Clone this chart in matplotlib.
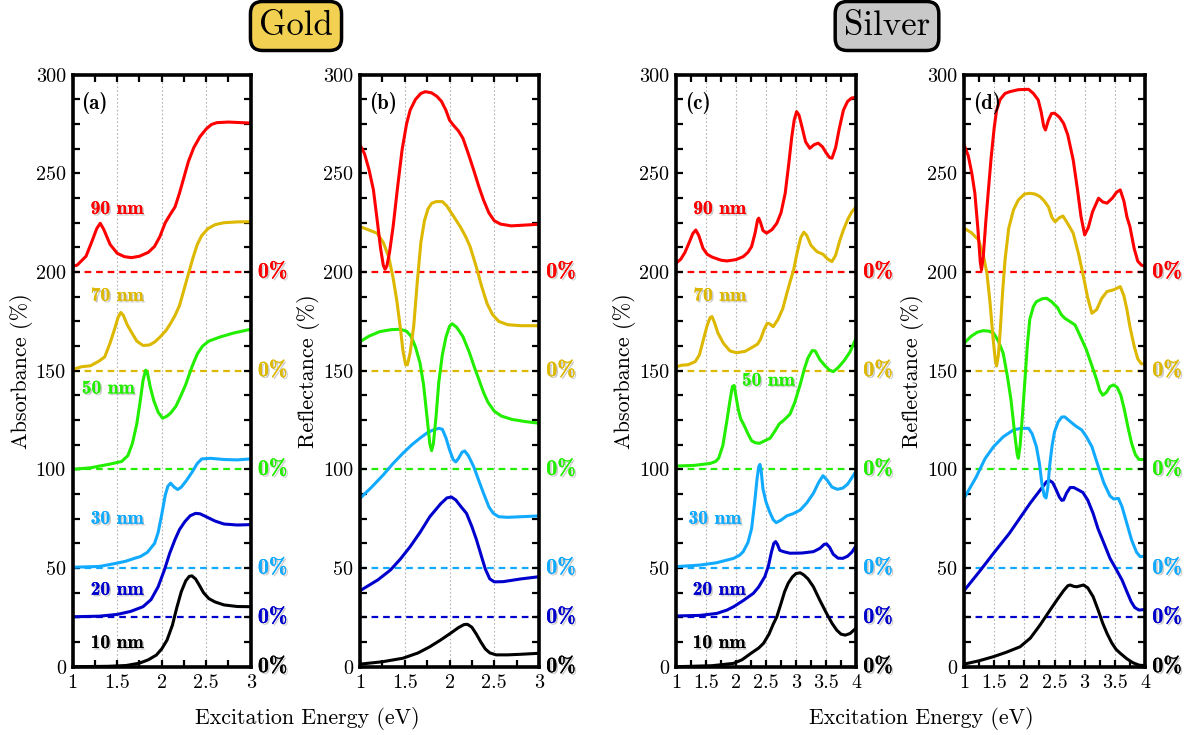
import matplotlib.pyplot as plt
import matplotlib.patheffects as pe
from matplotlib.ticker import MultipleLocator, FuncFormatter
import numpy as np

plt.rcParams['font.family'] = ['cmr10', 'DejaVu Serif']
plt.rcParams['axes.formatter.use_mathtext'] = True

# thickness series, stacking offsets and colours
thickness = ['10 nm', '20 nm', '30 nm', '50 nm', '70 nm', '90 nm']
offsets = [0, 25, 50, 100, 150, 200]
colors = ['black', '#0000cc', '#11aaff', '#22ee00', '#ddb800', '#ff0000']

# (a) gold absorbance: (energy eV, %)
a10 = [(1.0, 0), (1.4, 0.2), (1.6, 0.6), (1.75, 1.8), (1.85, 3.5), (1.94, 5.9), (2.0, 9), (2.06, 13.5),
       (2.12, 21), (2.17, 30), (2.22, 38), (2.27, 43.5), (2.31, 45.8), (2.34, 46), (2.38, 44.5), (2.42, 41.5),
       (2.47, 37.5), (2.53, 34.5), (2.6, 32.8), (2.7, 31.3), (2.85, 30.5), (3.0, 30.4)]
a20 = [(1.0, 0.3), (1.3, 0.6), (1.5, 1.5), (1.65, 3), (1.79, 5.4), (1.88, 9), (1.96, 15.5), (2.03, 24),
       (2.09, 32.5), (2.15, 39.5), (2.2, 44.5), (2.26, 48.5), (2.32, 51.5), (2.38, 52.7), (2.43, 52.5), (2.5, 51),
       (2.6, 48.8), (2.7, 47.3), (2.85, 46.8), (3.0, 47)]
a30 = [(1.0, 0.4), (1.3, 0.8), (1.49, 2.4), (1.6, 3.5), (1.7, 5), (1.76, 5.8), (1.84, 8), (1.92, 12.5),
       (1.96, 18), (2.0, 27), (2.04, 37), (2.07, 41.5), (2.10, 43), (2.14, 41), (2.18, 39.8), (2.22, 41),
       (2.28, 44.5), (2.34, 48.5), (2.4, 53), (2.45, 55.3), (2.55, 55.6), (2.7, 55), (2.85, 54.8), (3.0, 55.3)]
a50 = [(1.0, 0), (1.2, 0.8), (1.4, 2.5), (1.55, 4), (1.62, 7), (1.67, 13), (1.72, 23), (1.76, 35), (1.79, 45),
       (1.82, 50.3), (1.84, 49), (1.87, 42), (1.91, 35), (1.96, 29), (2.01, 25.9), (2.06, 27), (2.1, 28.5),
       (2.16, 32), (2.21, 36.8), (2.27, 43), (2.34, 52), (2.4, 58.5), (2.46, 62.5), (2.53, 65), (2.65, 67),
       (2.8, 69), (3.0, 71)]
a70 = [(1.0, 0.7), (1.1, 2), (1.2, 2.5), (1.3, 5), (1.36, 7), (1.42, 14), (1.47, 21), (1.51, 27), (1.54, 29.5),
       (1.57, 28), (1.61, 23.5), (1.66, 19.5), (1.72, 15), (1.79, 12.8), (1.86, 13), (1.92, 14.5), (1.98, 17),
       (2.05, 20.5), (2.1, 24), (2.15, 28), (2.2, 33), (2.25, 41), (2.3, 49), (2.35, 57), (2.4, 64), (2.45, 68.5),
       (2.52, 72), (2.6, 74), (2.7, 75), (2.85, 75.4), (3.0, 75.5)]
a90 = [(1.0, 3), (1.05, 3.5), (1.15, 8), (1.22, 16), (1.27, 22), (1.31, 24.7), (1.35, 21.5), (1.42, 14),
       (1.5, 9.5), (1.58, 7.8), (1.66, 7.3), (1.75, 8), (1.85, 10), (1.92, 13), (1.98, 18), (2.04, 25),
       (2.1, 29.5), (2.15, 33), (2.2, 40), (2.25, 48), (2.3, 56), (2.36, 63), (2.43, 68.6), (2.5, 72.5),
       (2.56, 74.8), (2.62, 75.7), (2.75, 76), (3.0, 75.5)]

# (b) gold reflectance
b10 = [(1.0, 1.3), (1.25, 2.5), (1.48, 4.3), (1.65, 7), (1.78, 10.1), (1.9, 13.5), (2.01, 16.9), (2.1, 19.8),
       (2.16, 21.3), (2.2, 21.5), (2.25, 20), (2.3, 16.5), (2.35, 12.5), (2.4, 9), (2.45, 7), (2.52, 6),
       (2.65, 6), (2.8, 6.3), (3.0, 6.8)]
b20 = [(1.0, 13.5), (1.2, 19), (1.34, 24), (1.45, 29.5), (1.56, 35.8), (1.67, 43), (1.78, 51), (1.9, 57.5),
       (1.97, 60.5), (2.02, 61), (2.07, 59.5), (2.13, 56), (2.19, 52.7), (2.25, 46), (2.3, 39.5), (2.35, 32),
       (2.4, 24.5), (2.45, 19.5), (2.5, 18), (2.6, 18.1), (2.8, 19.5), (3.0, 20.6)]
b30 = [(1.0, 35.3), (1.13, 41), (1.26, 47.2), (1.37, 53), (1.48, 58.2), (1.58, 62.5), (1.67, 65.8),
       (1.75, 68.5), (1.82, 70), (1.88, 70.8), (1.92, 70.3), (1.96, 66), (2.0, 60), (2.04, 55), (2.07, 53.8),
       (2.1, 55.5), (2.14, 58.7), (2.17, 59.3), (2.21, 57), (2.27, 51.4), (2.33, 44), (2.38, 37.9), (2.44, 31),
       (2.49, 27.7), (2.55, 26), (2.65, 25.7), (3.0, 26.4)]
b50 = [(1.0, 64.7), (1.1, 67.5), (1.22, 69.8), (1.35, 70.8), (1.45, 71), (1.52, 70), (1.57, 67.5), (1.62, 62),
       (1.67, 54), (1.71, 43), (1.75, 26), (1.78, 13), (1.8, 9.5), (1.82, 13), (1.85, 27), (1.88, 44), (1.92, 58),
       (1.96, 67), (2.0, 72.5), (2.03, 73.8), (2.08, 72), (2.15, 67.3), (2.22, 59.5), (2.28, 51.5), (2.33, 45.3),
       (2.38, 39), (2.43, 34), (2.5, 29.5), (2.58, 27), (2.7, 25.3), (2.85, 24.2), (3.0, 23.4)]
b70 = [(1.0, 73), (1.1, 71.3), (1.19, 69.7), (1.26, 65), (1.32, 57.8), (1.37, 47), (1.41, 35.9), (1.45, 22),
       (1.48, 10), (1.51, 3), (1.53, 3), (1.56, 9), (1.6, 22.5), (1.64, 45), (1.68, 65), (1.72, 76), (1.76, 82),
       (1.8, 84.8), (1.85, 85.7), (1.92, 85.7), (1.97, 83.5), (2.02, 80), (2.07, 76.5), (2.12, 73), (2.18, 68),
       (2.23, 62.9), (2.3, 52.5), (2.36, 42.6), (2.42, 34), (2.48, 28.5), (2.55, 25), (2.65, 23.3), (2.8, 22.8),
       (3.0, 22.8)]
b90 = [(1.0, 64.4), (1.05, 60), (1.1, 52), (1.15, 41.6), (1.19, 27), (1.23, 12), (1.26, 3.5), (1.28, 1.4),
       (1.3, 3), (1.33, 10), (1.37, 23), (1.42, 43), (1.47, 61.9), (1.52, 75), (1.56, 82), (1.62, 87.5),
       (1.68, 90.5), (1.73, 91.4), (1.8, 90.8), (1.86, 89), (1.91, 86.5), (1.96, 82), (2.0, 77), (2.04, 74.6),
       (2.1, 71.5), (2.15, 67.8), (2.21, 60), (2.27, 51.7), (2.33, 43), (2.38, 36.5), (2.44, 30), (2.5, 26),
       (2.57, 24.3), (2.69, 23.4), (3.0, 24.2)]

# (c) silver absorbance
c10 = [(1.0, 0), (1.6, 0.5), (1.96, 1.7), (2.1, 3.5), (2.25, 6.8), (2.38, 9.5), (2.46, 11.9), (2.55, 16.5),
       (2.62, 21.5), (2.68, 25.3), (2.75, 32), (2.81, 38), (2.87, 42.3), (2.94, 45.5), (3.0, 47.2), (3.07, 47.6),
       (3.13, 46.5), (3.2, 44.5), (3.29, 40.5), (3.4, 33.5), (3.51, 27), (3.6, 22), (3.68, 18.5), (3.75, 16.5),
       (3.82, 16), (3.9, 16.8), (4.0, 19.5)]
c20 = [(1.0, 0.7), (1.4, 1), (1.68, 2), (1.85, 3.7), (1.96, 5.4), (2.12, 8.5), (2.29, 12.2), (2.38, 15.5),
       (2.48, 20.6), (2.54, 26), (2.59, 33), (2.63, 37.5), (2.66, 38.4), (2.69, 37), (2.73, 34), (2.79, 33.3),
       (2.9, 32.5), (3.1, 32.6), (3.29, 33.3), (3.4, 35), (3.47, 37), (3.51, 37.2), (3.56, 35.5), (3.62, 32),
       (3.7, 30), (3.78, 29.9), (3.86, 31), (3.93, 33), (4.0, 36.2)]
c30 = [(1.0, 0.7), (1.4, 1.5), (1.68, 2.7), (1.96, 4.9), (2.06, 6.5), (2.12, 8.3), (2.2, 13), (2.26, 20),
       (2.31, 33), (2.35, 45), (2.38, 51.5), (2.4, 52.5), (2.42, 49), (2.45, 40), (2.5, 33.5), (2.56, 28.5),
       (2.62, 24.5), (2.67, 23), (2.75, 24.3), (2.85, 26.5), (2.95, 27.5), (3.07, 29.4), (3.18, 33), (3.29, 37.9),
       (3.38, 43.5), (3.45, 46.8), (3.52, 44.5), (3.6, 41), (3.69, 39.9), (3.78, 40.5), (3.86, 42.5), (4.0, 49)]
c50 = [(1.0, 1.7), (1.3, 2), (1.57, 3), (1.66, 4), (1.71, 5.6), (1.78, 12), (1.85, 25), (1.9, 35), (1.94, 42),
       (1.97, 42.5), (2.0, 37), (2.04, 30), (2.08, 25.5), (2.14, 22), (2.2, 18), (2.26, 14.5), (2.32, 13.5),
       (2.39, 13.2), (2.48, 14.5), (2.57, 15.8), (2.65, 19.5), (2.72, 23), (2.8, 25), (2.9, 28), (2.98, 34),
       (3.07, 43), (3.14, 51), (3.2, 56.5), (3.27, 60.2), (3.32, 60), (3.4, 55.5), (3.47, 53), (3.55, 50.5),
       (3.62, 49.5), (3.7, 51.5), (3.8, 55), (3.9, 59.5), (4.0, 66.4)]
c70 = [(1.0, 2), (1.1, 2.8), (1.2, 3), (1.32, 4.6), (1.39, 8), (1.45, 15), (1.52, 23), (1.57, 27), (1.6, 27.4),
       (1.64, 24.5), (1.7, 19), (1.79, 13.9), (1.9, 10), (2.01, 9.1), (2.15, 9.8), (2.29, 12.2), (2.36, 13.5),
       (2.41, 16), (2.47, 21), (2.52, 24), (2.56, 23.8), (2.62, 22.3), (2.7, 26), (2.78, 31.5), (2.85, 39.5),
       (2.91, 46), (2.96, 51), (3.02, 60), (3.08, 67.5), (3.13, 70.2), (3.18, 68.5), (3.25, 63.5), (3.35, 60.3),
       (3.45, 59), (3.53, 56.5), (3.6, 55.3), (3.66, 58.5), (3.73, 66), (3.79, 71.3), (3.86, 76.5), (3.93, 80.5),
       (4.0, 83)]
c90 = [(1.0, 4.5), (1.08, 6.5), (1.15, 10), (1.22, 15), (1.28, 19.5), (1.33, 21.3), (1.38, 18.5), (1.45, 12),
       (1.52, 9), (1.6, 7.6), (1.75, 6), (1.85, 5.6), (2.0, 6.3), (2.12, 7.8), (2.2, 10), (2.26, 12.9), (2.32, 20),
       (2.36, 26.5), (2.38, 27.3), (2.41, 25), (2.45, 21), (2.51, 19.7), (2.6, 21.5), (2.68, 24.7), (2.75, 30),
       (2.82, 39.9), (2.88, 55), (2.93, 68.6), (2.97, 77), (3.01, 81.3), (3.05, 79.5), (3.1, 73.5), (3.16, 66),
       (3.23, 62.7), (3.3, 64.5), (3.37, 65.3), (3.44, 63.5), (3.5, 60.5), (3.56, 58), (3.6, 57.7), (3.66, 63),
       (3.72, 72.5), (3.79, 82), (3.86, 86.5), (3.93, 88.2), (4.0, 88.5)]

# (d) silver reflectance
d10 = [(1.0, 1.3), (1.25, 3), (1.49, 5.1), (1.7, 7.3), (1.93, 10.1), (2.1, 14.5), (2.26, 21.1), (2.4, 27.5),
       (2.54, 33.8), (2.65, 38.5), (2.72, 41), (2.76, 41.4), (2.82, 40.7), (2.87, 40.5), (2.93, 41), (2.98, 41.4),
       (3.05, 40), (3.14, 35.5), (3.22, 29), (3.3, 22), (3.37, 16.9), (3.45, 12), (3.52, 8.8), (3.59, 6.8),
       (3.7, 4), (3.8, 2), (3.9, 0.8), (4.0, 0.5)]
d20 = [(1.0, 13.5), (1.25, 23), (1.49, 32.5), (1.75, 42.5), (1.98, 52.7), (2.1, 58), (2.2, 62), (2.3, 66),
       (2.37, 68.8), (2.42, 69.3), (2.47, 68.3), (2.53, 64.5), (2.58, 61), (2.62, 59.3), (2.65, 59.5), (2.7, 63),
       (2.76, 65.8), (2.82, 65.8), (2.9, 64.5), (2.97, 63.3), (3.05, 59.5), (3.14, 52.7), (3.22, 45), (3.3, 39),
       (3.42, 29.9), (3.52, 24.5), (3.62, 18.9), (3.7, 13), (3.77, 8), (3.83, 5), (3.9, 3.7), (4.0, 4)]
d30 = [(1.0, 35.3), (1.2, 46), (1.35, 55.5), (1.49, 61.5), (1.65, 66.5), (1.82, 70), (1.95, 70.8), (2.07, 70.8),
       (2.13, 68), (2.2, 61.5), (2.25, 53), (2.29, 43), (2.33, 36.5), (2.36, 35.5), (2.39, 41), (2.42, 52),
       (2.46, 62), (2.5, 69), (2.56, 74), (2.62, 76.5), (2.67, 76.6), (2.75, 74.5), (2.85, 72), (2.95, 70),
       (3.03, 66.5), (3.12, 61.5), (3.22, 52), (3.32, 43), (3.42, 36.5), (3.48, 35), (3.56, 35.3), (3.62, 31),
       (3.7, 22.5), (3.78, 14), (3.86, 8), (3.92, 5.8), (4.0, 6)]
d50 = [(1.0, 63.9), (1.12, 67.5), (1.22, 69.5), (1.32, 70.3), (1.42, 70), (1.49, 69), (1.57, 65), (1.65, 58.8),
       (1.72, 47), (1.78, 35), (1.84, 18), (1.88, 8), (1.9, 5.6), (1.93, 12), (1.97, 28), (2.01, 45.3), (2.05, 63),
       (2.09, 76), (2.15, 82.5), (2.2, 85), (2.3, 86.5), (2.37, 86.7), (2.45, 85), (2.55, 82), (2.61, 78.5),
       (2.67, 76.6), (2.75, 75), (2.84, 73.2), (2.92, 68), (3.03, 60.5), (3.12, 52.5), (3.2, 45.3), (3.25, 40),
       (3.3, 37.6), (3.36, 39), (3.42, 42), (3.48, 42.8), (3.54, 41.5), (3.6, 37.5), (3.66, 30), (3.72, 21),
       (3.78, 13), (3.84, 7.5), (3.9, 5), (4.0, 5)]
d70 = [(1.0, 72.2), (1.12, 70), (1.24, 66.3), (1.32, 58.5), (1.38, 49.4), (1.43, 35), (1.48, 17), (1.52, 5),
       (1.54, 2.4), (1.57, 8), (1.6, 20), (1.64, 40), (1.68, 56.1), (1.74, 72), (1.82, 81.5), (1.9, 86.5),
       (2.0, 89.5), (2.09, 89.9), (2.18, 89.5), (2.26, 88.2), (2.33, 86), (2.4, 83), (2.46, 77.5), (2.51, 75.5),
       (2.58, 77.5), (2.64, 78.4), (2.72, 74.5), (2.81, 69.7), (2.9, 59), (2.98, 47.7), (3.05, 37), (3.12, 29.1),
       (3.2, 31), (3.28, 36.5), (3.37, 40.1), (3.48, 41), (3.59, 42.6), (3.65, 38), (3.7, 31), (3.75, 22.3),
       (3.82, 12.5), (3.88, 6), (3.94, 3.5), (4.0, 3.5)]
d90 = [(1.0, 64.4), (1.07, 59), (1.13, 50), (1.18, 39.9), (1.23, 22), (1.27, 5), (1.29, 1), (1.32, 8), (1.36, 25),
       (1.4, 39.9), (1.45, 58), (1.5, 73), (1.54, 82), (1.6, 87.5), (1.68, 90.5), (1.76, 91.4), (1.9, 92.4),
       (2.07, 92.6), (2.15, 90.5), (2.23, 87.2), (2.28, 81), (2.32, 74), (2.35, 72), (2.4, 77), (2.45, 80.3),
       (2.5, 80.5), (2.58, 78.5), (2.65, 75.4), (2.72, 69.5), (2.81, 56.8), (2.88, 42), (2.94, 28), (3.0, 18.8),
       (3.06, 22.5), (3.13, 30.5), (3.23, 37.4), (3.3, 35.5), (3.37, 34.9), (3.46, 37.5), (3.53, 40.5),
       (3.59, 41.6), (3.65, 36), (3.7, 28), (3.75, 23), (3.82, 12), (3.88, 5.5), (3.94, 3.5), (4.0, 3)]

panels = [
    ('(a)', 'Absorbance (%)', 3, [a10, a20, a30, a50, a70, a90]),
    ('(b)', 'Reflectance (%)', 3, [b10, b20, b30, b50, b70, b90]),
    ('(c)', 'Absorbance (%)', 4, [c10, c20, c30, c50, c70, c90]),
    ('(d)', 'Reflectance (%)', 4, [d10, d20, d30, d50, d70, d90]),
]

# label spots for the thickness names (only on absorbance panels)
name_pos = {
    0: [(1.5, 12), (1.5, 39), (1.5, 75), (1.4, 141), (1.5, 188), (1.5, 232)],
    2: [(1.72, 12), (1.72, 39), (1.65, 75), (2.54, 145), (1.73, 188), (1.73, 232)],
}

W, H = 1197, 735
lefts = [72.7, 360, 676, 964]
widths = [178, 179, 180, 181]
bottom, top = 666.7, 74.7

fig = plt.figure(figsize=(W / 100, H / 100), dpi=100)
shadow = [pe.withSimplePatchShadow(offset=(1.2, -1.2), shadow_rgbFace='0.6', alpha=0.5), pe.Normal()]

for i, (tag, ylab, xmax, curves) in enumerate(panels):
    ax = fig.add_axes([lefts[i] / W, 1 - bottom / H, widths[i] / W, (bottom - top) / H])
    ax.set_xlim(1, xmax)
    ax.set_ylim(0, 300)

    for x in np.arange(1.5, xmax, 0.5):
        ax.axvline(x, color='0.7', ls=(0, (1.5, 2)), lw=0.8, zorder=0)

    for k in range(6):
        pts = np.array(curves[k])
        if offsets[k] > 0:
            ax.plot([1, xmax], [offsets[k], offsets[k]], color=colors[k], ls=(0, (3, 2.2)), lw=1.6, zorder=1)
        ax.plot(pts[:, 0], pts[:, 1] + offsets[k], color=colors[k], lw=2.2, zorder=2,
                solid_joinstyle='round', solid_capstyle='round')
        ax.text(1.04, offsets[k], '0%', transform=ax.get_yaxis_transform(), color=colors[k],
                fontsize=16, family='cmb10', ha='left', va='center', path_effects=shadow, clip_on=False)
        if i in name_pos:
            tx, ty = name_pos[i][k]
            ax.text(tx, ty, thickness[k], color=colors[k], fontsize=14, family='cmb10',
                    ha='center', va='center', path_effects=shadow)

    ax.text(0.05, 0.952, tag, transform=ax.transAxes, fontsize=15, family='cmb10', ha='left', va='center')

    ax.xaxis.set_major_locator(MultipleLocator(0.5))
    ax.xaxis.set_minor_locator(MultipleLocator(0.25))
    ax.yaxis.set_major_locator(MultipleLocator(50))
    ax.yaxis.set_minor_locator(MultipleLocator(12.5))
    ax.xaxis.set_major_formatter(FuncFormatter(lambda v, p: '%g' % v))
    ax.yaxis.set_major_formatter(FuncFormatter(lambda v, p: '%g' % v))
    ax.tick_params(which='both', direction='in', top=True, right=True, length=5, width=1.6, labelsize=14.5, pad=5)
    for s in ax.spines.values():
        s.set_linewidth(2.6)
    ax.set_ylabel(ylab, fontsize=16, labelpad=2)

fig.text(307 / W, 1 - 718 / H, 'Excitation Energy (eV)', fontsize=15.8, ha='center', va='center')
fig.text(921 / W, 1 - 718 / H, 'Excitation Energy (eV)', fontsize=15.8, ha='center', va='center')

fig.text(296 / W, 1 - 26 / H, 'Gold', fontsize=25, ha='center', va='center',
         bbox=dict(boxstyle='round,pad=0.25,rounding_size=0.35', fc='#f2d052', ec='black', lw=2.5))
fig.text(887 / W, 1 - 26 / H, 'Silver', fontsize=25, ha='center', va='center',
         bbox=dict(boxstyle='round,pad=0.25,rounding_size=0.35', fc='#c8c8c8', ec='black', lw=2.5))

fig.savefig('out.png', dpi=100)
